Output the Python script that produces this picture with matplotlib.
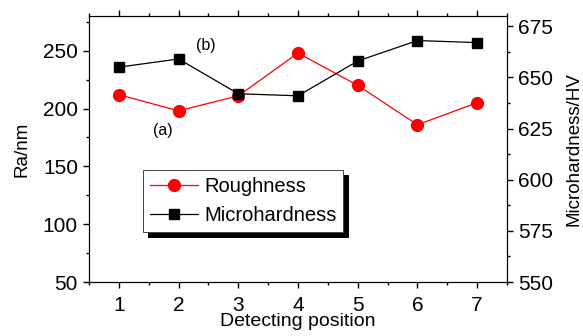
import matplotlib
matplotlib.use("Agg")
import matplotlib.pyplot as plt
from matplotlib.ticker import MultipleLocator

plt.rcParams['font.family'] = ['Liberation Sans', 'DejaVu Sans']

# dados
positions = [1, 2, 3, 4, 5, 6, 7]
roughness = [212, 198, 211, 248, 220, 186, 205]
microhardness = [655, 659, 642, 641, 658, 668, 667]

fig = plt.figure(figsize=(5.83, 3.36), dpi=100)
ax = fig.add_axes([89 / 583, 1 - 282 / 336, 418 / 583, 266 / 336])
ax2 = ax.twinx()

l1, = ax.plot(positions, roughness, color='red', lw=0.9, marker='o', ms=8.5,
              markeredgecolor='red', markerfacecolor='red')
l2, = ax2.plot(positions, microhardness, color='black', lw=0.9, marker='s', ms=7.5)

ax.set_xlim(0.5, 7.5)
ax.set_ylim(50, 280)
ax2.set_ylim(550, 680)

ax.xaxis.set_major_locator(MultipleLocator(1))
ax.xaxis.set_minor_locator(MultipleLocator(0.5))
ax.yaxis.set_major_locator(MultipleLocator(50))
ax.yaxis.set_minor_locator(MultipleLocator(25))
ax2.yaxis.set_major_locator(MultipleLocator(25))
ax2.yaxis.set_minor_locator(MultipleLocator(12.5))

ax.tick_params(axis='both', which='major', direction='out', length=4.5, width=1,
               labelsize=15, top=True, pad=3.5)
ax.tick_params(axis='x', which='major', pad=5.5)
ax.tick_params(axis='both', which='minor', direction='out', length=2.5, width=1, top=True)
ax.tick_params(axis='x', labeltop=False)
ax2.tick_params(which='major', direction='out', length=4.5, width=1, labelsize=15, pad=3.5)
ax2.tick_params(which='minor', direction='out', length=2.5, width=1)

ax.set_ylabel("Ra/nm", fontsize=13.5, labelpad=9)
ax.set_xlabel("Detecting position", fontsize=14, labelpad=-1)
ax2.set_ylabel("Microhardness/HV", fontsize=13.5, labelpad=9)

ax.text(2.3, 251, "(b)", fontsize=11.5)
ax.text(1.58, 177, "(a)", fontsize=11.5)

leg = ax.legend([l1, l2], ["Roughness", "Microhardness"], loc='lower left',
                bbox_to_anchor=(0.128, 0.188), fontsize=14.5, fancybox=False,
                shadow={'color': 'black', 'alpha': 1, 'ox': 3.6, 'oy': -3.6}, framealpha=1,
                edgecolor='#444444', borderpad=0.35, handlelength=2.4,
                handletextpad=0.3, labelspacing=0.5, borderaxespad=0)
leg.get_frame().set_linewidth(0.7)

fig.savefig("out.png", dpi=100)
